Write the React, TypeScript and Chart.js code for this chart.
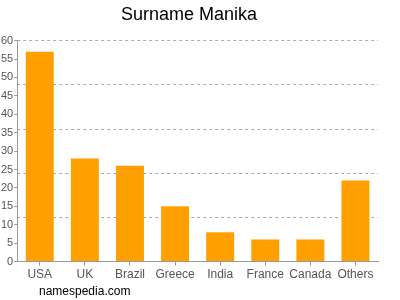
import React, { useEffect, useRef } from "react";
import { Chart, registerables } from "chart.js";

Chart.register(...registerables);

const categories = ["USA", "UK", "Brazil", "Greece", "India", "France", "Canada", "Others"];
const values = [57, 28, 26, 15, 8, 6, 6, 22];
const titleText = "Surname Manika";
const footerText = "namespedia.com";

export default function App() {
  const ref = useRef<HTMLCanvasElement | null>(null);
  useEffect(() => {
    document.body.style.margin = "0";
    const ctx = ref.current!;
    const chart = new Chart(ctx, {
      type: "bar",
      data: {
        labels: categories,
        datasets: [
          {
            data: values,
            backgroundColor: "#ffa000",
            borderWidth: 0,
            categoryPercentage: 1,
            barPercentage: 0.62,
          },
        ],
      },
      options: {
        animation: false,
        responsive: false,
        layout: { padding: { left: 0, right: 22, top: 0, bottom: 16 } },
        plugins: {
          legend: { display: false },
          tooltip: { enabled: false },
          title: {
            display: true,
            text: titleText,
            color: "#000",
            font: { family: "Liberation Sans, Arial, sans-serif", size: 18, weight: "normal" },
            padding: { top: 4, bottom: 15 },
          },
        },
        scales: {
          x: {
            grid: {
              display: true,
              offset: false,
              drawOnChartArea: false,
              drawTicks: true,
              tickLength: 4,
              color: "#999",
            },
            border: { display: true, color: "#999" },
            ticks: {
              color: "#555",
              font: { family: "Liberation Sans, Arial, sans-serif", size: 12 },
              padding: 2,
              maxRotation: 0,
            },
          },
          y: {
            min: 0,
            max: 60,
            grid: {
              display: true,
              drawOnChartArea: false,
              drawTicks: true,
              tickLength: 3,
              color: "#999",
            },
            border: { display: true, color: "#999" },
            ticks: {
              stepSize: 5,
              color: "#555",
              padding: 1,
              font: { family: "Liberation Sans, Arial, sans-serif", size: 11 },
            },
          },
          y2: {
            position: "right",
            min: 0,
            max: 60,
            grid: {
              display: true,
              drawOnChartArea: true,
              drawTicks: false,
              color: (c: any) => (c.tick && c.tick.value === 0 ? "rgba(0,0,0,0)" : "#aaa"),
            },
            border: { display: false, dash: [3, 3] },
            ticks: { display: false, stepSize: 12 },
          },
        },
      },
    } as any);
    return () => chart.destroy();
  }, []);
  return (
    <div style={{ position: "relative", width: 400, height: 300 }}>
      <canvas ref={ref} width={400} height={300} />
      <div
        style={{
          position: "absolute",
          left: 39,
          top: 284,
          fontFamily: "Liberation Sans, Arial, sans-serif",
          fontSize: 12,
          color: "#000",
          lineHeight: "15px",
        }}
      >
        {footerText}
      </div>
    </div>
  );
}
